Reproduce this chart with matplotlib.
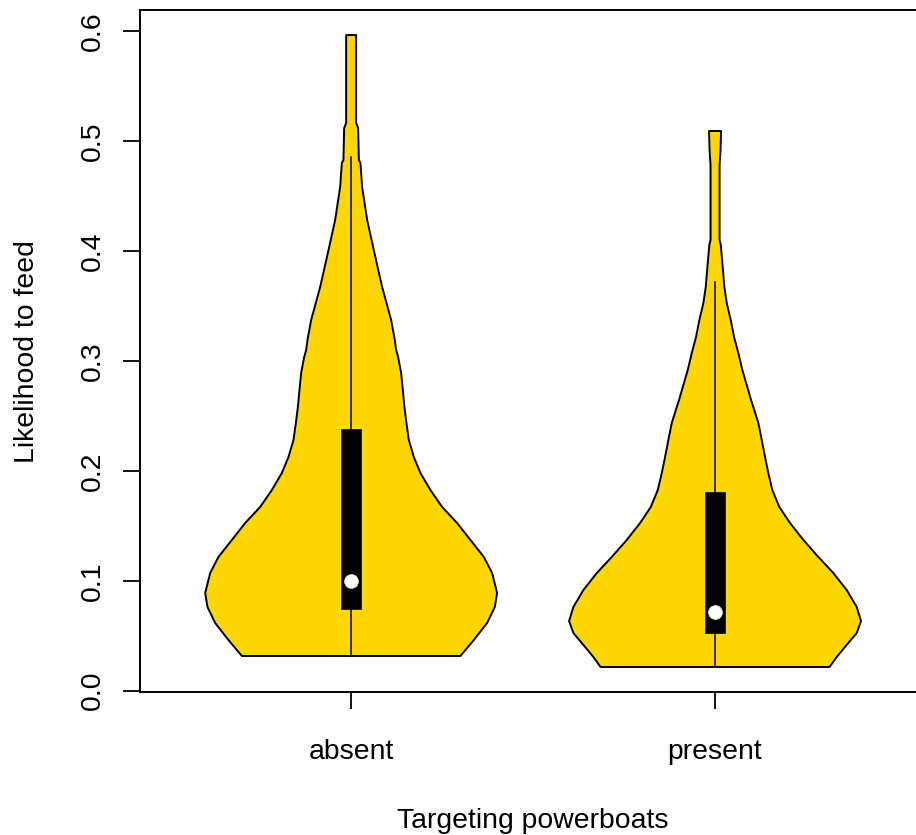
import matplotlib
matplotlib.use("Agg")
import matplotlib.pyplot as plt
import numpy as np

plt.rcParams['font.family'] = ['Liberation Sans', 'DejaVu Sans']

# ---- data ----
categories = ["absent", "present"]

# violin outline profiles: y-level and half-width (in x-axis units)
absent_y = [0.0316, 0.0461, 0.0616, 0.0762, 0.0889, 0.1071, 0.1217, 0.1372, 0.1526,
            0.1672, 0.1826, 0.1981, 0.2126, 0.2281, 0.2436, 0.2581, 0.2736, 0.2891,
            0.3037, 0.3100, 0.3191, 0.3373, 0.3673, 0.3983, 0.4283, 0.4583, 0.4802,
            0.4829, 0.5120, 0.5166, 0.5966]
absent_hw = [0.3003, 0.3371, 0.3736, 0.3948, 0.4011, 0.3874, 0.3646, 0.3277, 0.2912,
             0.2500, 0.2179, 0.1904, 0.1723, 0.1585, 0.1519, 0.1464, 0.1420, 0.1374,
             0.1291, 0.1236, 0.1200, 0.1099, 0.0852, 0.0640, 0.0440, 0.0302, 0.0256,
             0.0212, 0.0192, 0.0137, 0.0137]

present_y = [0.0216, 0.0307, 0.0398, 0.0525, 0.0634, 0.0762, 0.0916, 0.1071, 0.1217,
             0.1372, 0.1526, 0.1672, 0.1826, 0.1981, 0.2126, 0.2281, 0.2436, 0.2581,
             0.2645, 0.2763, 0.2918, 0.3073, 0.3219, 0.3373, 0.3528, 0.3673, 0.3892,
             0.4056, 0.4101, 0.4784, 0.4920, 0.5093]
present_hw = [0.3146, 0.3343, 0.3571, 0.3893, 0.4011, 0.3893, 0.3618, 0.3250, 0.2838,
              0.2426, 0.2060, 0.1766, 0.1574, 0.1464, 0.1374, 0.1283, 0.1190, 0.1052,
              0.0989, 0.0887, 0.0750, 0.0640, 0.0522, 0.0431, 0.0321, 0.0256, 0.0201,
              0.0157, 0.0124, 0.0124, 0.0151, 0.0165]

# box-plot summaries
q1 = [0.0743, 0.0528]
q3 = [0.2381, 0.1805]
medians = [0.0998, 0.0719]
whisker_low = [0.0316, 0.0216]
whisker_high = [0.4855, 0.3716]

yticks = [0.0, 0.1, 0.2, 0.3, 0.4, 0.5, 0.6]
ytick_labels = ["0.0", "0.1", "0.2", "0.3", "0.4", "0.5", "0.6"]

xlabel = "Targeting powerboats"
ylabel = "Likelihood to feed"

# ---- figure ----
W, H = 916, 835
fig = plt.figure(figsize=(W / 100, H / 100), dpi=100)
left_px, right_px, top_px, bottom_px = 139.5, 926.7, 10.0, 691.7
ax = fig.add_axes([left_px / W, 1 - bottom_px / H,
                   (right_px - left_px) / W, (bottom_px - top_px) / H])

profiles = [(absent_y, absent_hw), (present_y, present_hw)]
positions = [1, 2]
box_hw = 0.0275

for pos, (py, phw), a, b, m, wl, wh in zip(positions, profiles, q1, q3, medians,
                                            whisker_low, whisker_high):
    py = np.asarray(py)
    phw = np.asarray(phw)
    xs = np.concatenate([pos - phw, (pos + phw)[::-1]])
    ys = np.concatenate([py, py[::-1]])
    ax.fill(xs, ys, facecolor="#FFD700", edgecolor="black", linewidth=1.4,
            joinstyle="round", zorder=2)
    ax.plot([pos, pos], [wl, wh], color="black", linewidth=1.1, zorder=3)
    ax.add_patch(plt.Rectangle((pos - box_hw, a), 2 * box_hw, b - a,
                               facecolor="black", edgecolor="black", linewidth=0.5,
                               zorder=4))
    ax.plot([pos], [m], marker="o", markersize=10, color="white",
            markeredgecolor="#DDDDDD", markeredgewidth=0.5, zorder=5)

ax.set_xlim(0.4184, 2.5816)
ax.set_ylim(-0.0009, 0.6194)

ax.set_xticks(positions)
ax.set_xticklabels(categories, fontsize=20.4)
ax.set_yticks(yticks)
ax.set_yticklabels(ytick_labels, fontsize=20.4, rotation=90, va="center")

ax.tick_params(axis="both", length=12, width=1.3, color="black")
ax.tick_params(axis="x", pad=22)
ax.tick_params(axis="y", pad=12)

for sp in ax.spines.values():
    sp.set_linewidth(1.4)
    sp.set_color("black")

fig.text(533 / W, 1 - 828 / H, xlabel, fontsize=20.4, ha="center", va="baseline")
fig.text(40 / W, 1 - 351.5 / H, ylabel, fontsize=20.4, rotation=90,
         ha="right", va="center")

fig.savefig("out.png", dpi=100, facecolor="white")
